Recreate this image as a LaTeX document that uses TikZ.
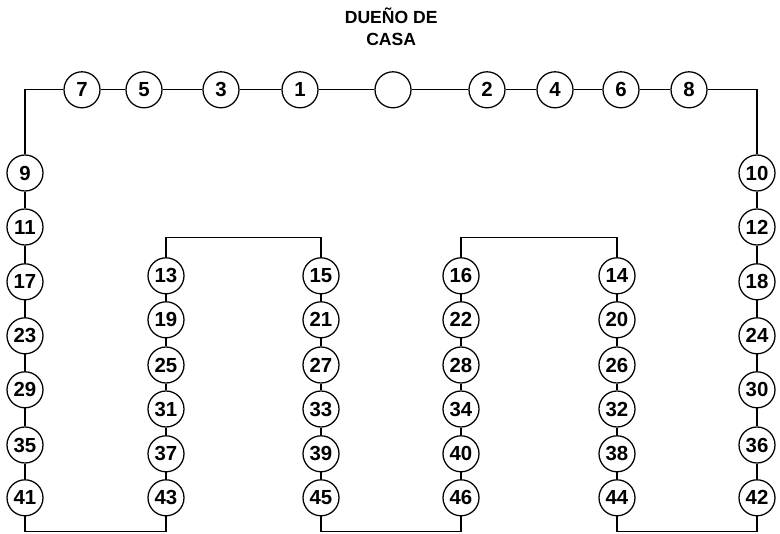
\documentclass[tikz,border=0pt]{standalone}
\usepackage{fontspec}
\setmainfont{Liberation Sans}
\usetikzlibrary{calc}
\tikzset{
  every path/.style={
    black,
    line width=0.9pt
  },
  seat/.style={
    draw,
    circle,
    minimum size=0.9cm,
    inner sep=0pt,
    font=\fontsize{14.5}{17}\selectfont\bfseries
  }
}

\begin{document}
\begin{tikzpicture}
    \useasboundingbox (0,0) rectangle (19.5,13.325);
    %-------------------------
    %title
    %-------------------------
    \node[align=center,font=\fontsize{12.5}{15.6}\selectfont\bfseries] (title) at (9.78,12.65) {DUEÑO DE\\CASA};

    %-------------------------
    %top row
    %-------------------------
    \node[seat] (7) at (2.05,11.08) {7};
    \node[seat] (5) at (3.6,11.08) {5};
    \node[seat] (3) at (5.525,11.08) {3};
    \node[seat] (1) at (7.5,11.08) {1};
    \node[seat] (host) at (9.825,11.08) {};
    \node[seat] (2) at (12.175,11.08) {2};
    \node[seat] (4) at (13.875,11.08) {4};
    \node[seat] (6) at (15.525,11.08) {6};
    \node[seat] (8) at (17.225,11.08) {8};

    %-------------------------
    %left column
    %-------------------------
    \node[seat] (9) at (0.625,9.0) {9};
    \node[seat] (11) at (0.625,7.65) {11};
    \node[seat] (17) at (0.625,6.28) {17};
    \node[seat] (23) at (0.625,4.93) {23};
    \node[seat] (29) at (0.625,3.58) {29};
    \node[seat] (35) at (0.625,2.2) {35};
    \node[seat] (41) at (0.625,0.88) {41};

    %-------------------------
    %right column
    %-------------------------
    \node[seat] (10) at (18.925,9.0) {10};
    \node[seat] (12) at (18.925,7.65) {12};
    \node[seat] (18) at (18.925,6.28) {18};
    \node[seat] (24) at (18.925,4.93) {24};
    \node[seat] (30) at (18.925,3.58) {30};
    \node[seat] (36) at (18.925,2.2) {36};
    \node[seat] (42) at (18.925,0.88) {42};

    %-------------------------
    %inner columns
    %-------------------------
    \node[seat] (13) at (4.15,6.43) {13};
    \node[seat] (19) at (4.15,5.33) {19};
    \node[seat] (25) at (4.15,4.2) {25};
    \node[seat] (31) at (4.15,3.1) {31};
    \node[seat] (37) at (4.15,1.98) {37};
    \node[seat] (43) at (4.15,0.88) {43};

    \node[seat] (15) at (8.025,6.43) {15};
    \node[seat] (21) at (8.025,5.33) {21};
    \node[seat] (27) at (8.025,4.2) {27};
    \node[seat] (33) at (8.025,3.1) {33};
    \node[seat] (39) at (8.025,1.98) {39};
    \node[seat] (45) at (8.025,0.88) {45};

    \node[seat] (16) at (11.525,6.43) {16};
    \node[seat] (22) at (11.525,5.33) {22};
    \node[seat] (28) at (11.525,4.2) {28};
    \node[seat] (34) at (11.525,3.1) {34};
    \node[seat] (40) at (11.525,1.98) {40};
    \node[seat] (46) at (11.525,0.88) {46};

    \node[seat] (14) at (15.425,6.43) {14};
    \node[seat] (20) at (15.425,5.33) {20};
    \node[seat] (26) at (15.425,4.2) {26};
    \node[seat] (32) at (15.425,3.1) {32};
    \node[seat] (38) at (15.425,1.98) {38};
    \node[seat] (44) at (15.425,0.88) {44};

    %-------------------------
    %corners
    %-------------------------
    \coordinate (tl) at (0.625,11.08);
    \coordinate (tr) at (18.925,11.08);
    \coordinate (a1) at (4.15,7.38);
    \coordinate (a2) at (8.025,7.38);
    \coordinate (a3) at (11.525,7.38);
    \coordinate (a4) at (15.425,7.38);
    \coordinate (b1) at (0.625,0.03);
    \coordinate (b2) at (4.15,0.03);
    \coordinate (b3) at (8.025,0.03);
    \coordinate (b4) at (11.525,0.03);
    \coordinate (b5) at (15.425,0.03);
    \coordinate (b6) at (18.925,0.03);

    %-------------------------
    %top line
    %-------------------------
    \draw (9) -- (tl) -- (7);
    \draw (7) -- (5);
    \draw (5) -- (3);
    \draw (3) -- (1);
    \draw (1) -- (host);
    \draw (host) -- (2);
    \draw (2) -- (4);
    \draw (4) -- (6);
    \draw (6) -- (8);
    \draw (8) -- (tr) -- (10);

    %-------------------------
    %outer columns
    %-------------------------
    \draw (9) -- (11);
    \draw (11) -- (17);
    \draw (17) -- (23);
    \draw (23) -- (29);
    \draw (29) -- (35);
    \draw (35) -- (41);

    \draw (10) -- (12);
    \draw (12) -- (18);
    \draw (18) -- (24);
    \draw (24) -- (30);
    \draw (30) -- (36);
    \draw (36) -- (42);

    %-------------------------
    %inner columns
    %-------------------------
    \draw (13) -- (19);
    \draw (19) -- (25);
    \draw (25) -- (31);
    \draw (31) -- (37);
    \draw (37) -- (43);

    \draw (15) -- (21);
    \draw (21) -- (27);
    \draw (27) -- (33);
    \draw (33) -- (39);
    \draw (39) -- (45);

    \draw (16) -- (22);
    \draw (22) -- (28);
    \draw (28) -- (34);
    \draw (34) -- (40);
    \draw (40) -- (46);

    \draw (14) -- (20);
    \draw (20) -- (26);
    \draw (26) -- (32);
    \draw (32) -- (38);
    \draw (38) -- (44);

    %-------------------------
    %brackets
    %-------------------------
    \draw (13) -- (a1) -- (a2) -- (15);
    \draw (16) -- (a3) -- (a4) -- (14);

    \draw (41) -- (b1) -- (b2) -- (43);
    \draw (45) -- (b3) -- (b4) -- (46);
    \draw (44) -- (b5) -- (b6) -- (42);

\end{tikzpicture}
\end{document}
